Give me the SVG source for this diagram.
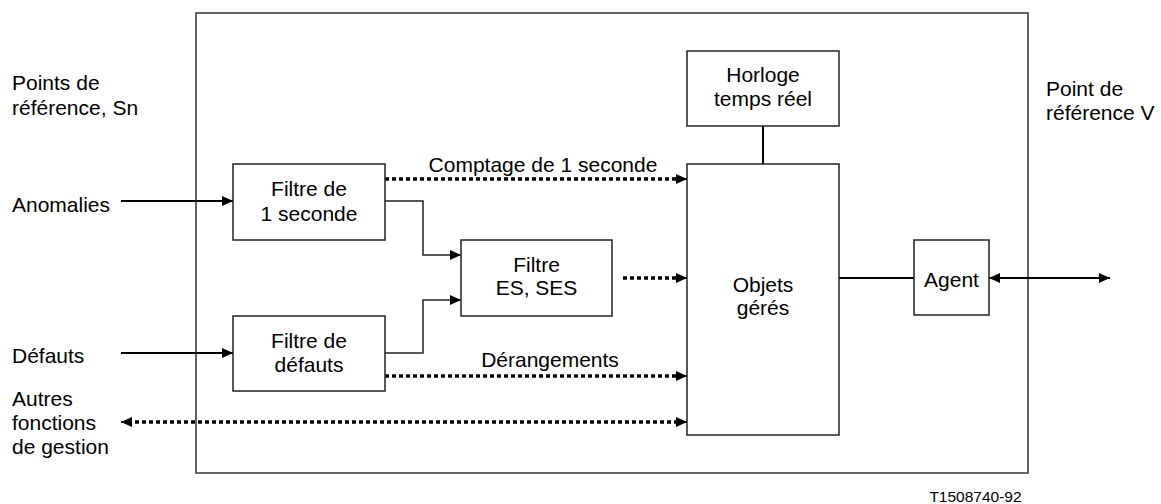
<svg xmlns="http://www.w3.org/2000/svg" width="1161" height="504" viewBox="0 0 1161 504">
<style>
.t{font-family:"Liberation Sans",Arial,sans-serif;font-size:21px;fill:#000}
.c{text-anchor:middle}
.box{fill:#fff;stroke:#222;stroke-width:1.5}
.ln{fill:none;stroke:#000;stroke-width:2}
.el{fill:none;stroke:#222;stroke-width:1.5}
.dot{fill:none;stroke:#000;stroke-width:3.5;stroke-dasharray:4 3}
</style>
<defs>
<marker id="ah" viewBox="0 0 11 10" refX="11" refY="5" markerWidth="11" markerHeight="10" markerUnits="userSpaceOnUse" orient="auto-start-reverse">
<path d="M0,0 L11,5 L0,10 z" fill="#000"/>
</marker>
</defs>
<rect id="frame" x="196" y="13" width="832" height="460" fill="none" stroke="#333" stroke-width="1.5"/>
<g id="labels">
<text class="t" x="12" y="90">Points de</text>
<text class="t" x="12" y="115">référence, Sn</text>
<text class="t" x="12" y="212">Anomalies</text>
<text class="t" x="12" y="363">Défauts</text>
<text class="t" x="12" y="406">Autres</text>
<text class="t" x="12" y="430">fonctions</text>
<text class="t" x="12" y="454">de gestion</text>
<text class="t" x="1046" y="96">Point de</text>
<text class="t" x="1046" y="120">référence V</text>
<text class="t c" x="543" y="172">Comptage de 1 seconde</text>
<text class="t c" x="550" y="367">Dérangements</text>
<text class="t c" x="975.5" y="502" style="font-size:15.5px">T1508740-92</text>
</g>
<g id="connectors">
<line class="ln" x1="121" y1="201" x2="233" y2="201" marker-end="url(#ah)"/>
<line class="ln" x1="121" y1="353" x2="233" y2="353" marker-end="url(#ah)"/>
<polyline class="el" points="385,201 423,201 423,255 461,255" marker-end="url(#ah)"/>
<polyline class="el" points="385,353 423,353 423,300 461,300" marker-end="url(#ah)"/>
<line class="dot" x1="385" y1="179" x2="680" y2="179"/>
<line class="ln" x1="680" y1="179" x2="687" y2="179" marker-end="url(#ah)"/>
<line class="dot" x1="623" y1="278" x2="680" y2="278"/>
<line class="ln" x1="680" y1="278" x2="687" y2="278" marker-end="url(#ah)"/>
<line class="dot" x1="385" y1="376" x2="680" y2="376"/>
<line class="ln" x1="680" y1="376" x2="687" y2="376" marker-end="url(#ah)"/>
<line class="dot" x1="128" y1="422" x2="680" y2="422"/>
<line class="ln" x1="121" y1="422" x2="128" y2="422" marker-start="url(#ah)"/>
<line class="ln" x1="680" y1="422" x2="687" y2="422" marker-end="url(#ah)"/>
<line class="ln" x1="763" y1="126" x2="763" y2="164"/>
<line class="ln" x1="839" y1="278" x2="914" y2="278"/>
<line class="ln" x1="989" y1="278" x2="1110" y2="278" marker-start="url(#ah)" marker-end="url(#ah)"/>
</g>
<g id="filtre1s">
<rect class="box" x="233" y="164" width="152" height="76"/>
<text class="t c" x="309" y="196">Filtre de</text>
<text class="t c" x="309" y="221">1 seconde</text>
</g>
<g id="filtredefauts">
<rect class="box" x="233" y="316" width="152" height="75"/>
<text class="t c" x="309" y="348">Filtre de</text>
<text class="t c" x="309" y="372">défauts</text>
</g>
<g id="filtrees">
<rect class="box" x="461" y="240" width="151" height="76"/>
<text class="t c" x="536.5" y="272">Filtre</text>
<text class="t c" x="536.5" y="295">ES, SES</text>
</g>
<g id="horloge">
<rect class="box" x="687" y="51" width="152" height="75"/>
<text class="t c" x="763" y="82">Horloge</text>
<text class="t c" x="763" y="106">temps réel</text>
</g>
<g id="objets">
<rect class="box" x="687" y="164" width="152" height="271"/>
<text class="t c" x="763" y="292">Objets</text>
<text class="t c" x="763" y="315">gérés</text>
</g>
<g id="agent">
<rect class="box" x="914" y="240" width="75" height="75"/>
<text class="t c" x="951.5" y="287">Agent</text>
</g>
</svg>
